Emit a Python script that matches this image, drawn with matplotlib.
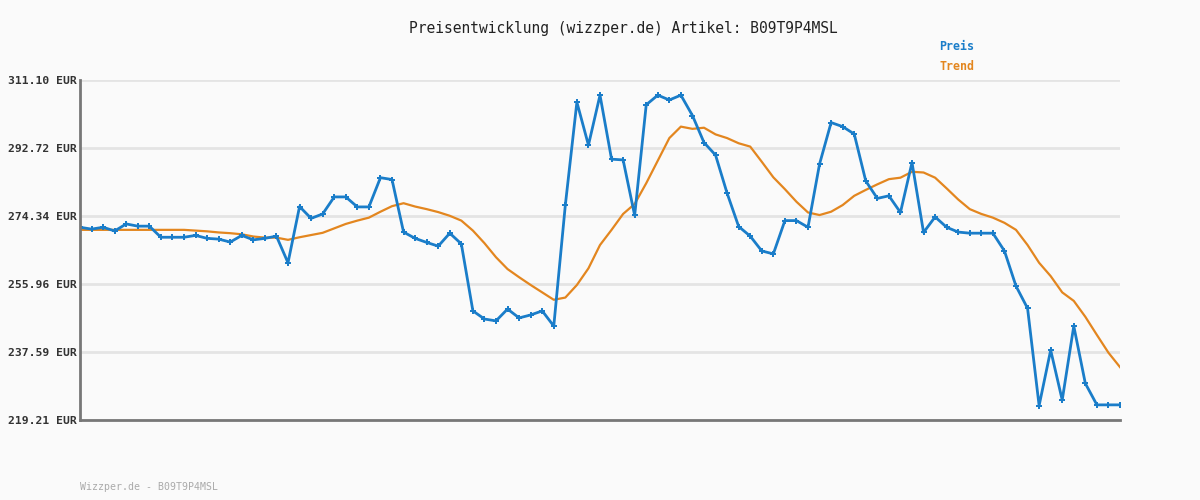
import matplotlib
matplotlib.use('Agg')
from matplotlib import pyplot as plt
import numpy as np

# price history (91 samples)
preis = [271.3, 270.8, 271.3, 270.3, 272.2, 271.6, 271.6, 268.6, 268.6, 268.6,
         269.1, 268.3, 268.1, 267.3, 269.1, 267.9, 268.3, 268.9, 261.7, 276.9,
         273.7, 274.9, 279.5, 279.5, 276.8, 276.8, 284.7, 284.2, 270.0, 268.3,
         267.2, 266.2, 269.7, 266.8, 248.7, 246.5, 246.0, 249.2, 246.8, 247.6,
         248.7, 244.6, 277.3, 305.1, 293.5, 307.0, 289.7, 289.5, 274.5, 304.4,
         307.0, 305.7, 307.0, 301.5, 294.2, 290.8, 280.5, 271.5, 268.9, 264.9,
         264.1, 273.1, 273.1, 271.3, 288.4, 299.6, 298.5, 296.5, 283.8, 279.1,
         279.8, 275.3, 288.8, 269.9, 274.1, 271.3, 270.0, 269.7, 269.7, 269.7,
         264.9, 255.4, 249.4, 223.1, 238.1, 224.6, 244.6, 229.1, 223.3, 223.3,
         223.3]

trend = [270.6, 270.6, 270.6, 270.6, 270.6, 270.6, 270.6, 270.6, 270.6, 270.6,
         270.4, 270.2, 269.9, 269.7, 269.4, 268.8, 268.5, 268.5, 267.9, 268.6,
         269.2, 269.8, 271.0, 272.2, 273.1, 273.9, 275.5, 277.0, 277.8, 276.9,
         276.2, 275.4, 274.4, 273.1, 270.4, 267.0, 263.2, 260.0, 257.8, 255.7,
         253.7, 251.7, 252.3, 255.7, 260.2, 266.5, 270.6, 274.9, 277.6, 283.2,
         289.3, 295.4, 298.5, 297.9, 298.2, 296.4, 295.4, 294.0, 293.1, 289.0,
         284.8, 281.6, 278.2, 275.3, 274.6, 275.5, 277.3, 279.8, 281.4, 282.9,
         284.3, 284.7, 286.3, 286.1, 284.7, 281.8, 278.8, 276.2, 274.9, 273.9,
         272.5, 270.6, 266.5, 261.7, 258.1, 253.7, 251.4, 247.1, 242.2, 237.4,
         233.5]

yticks = [219.21, 237.59, 255.96, 274.34, 292.72, 311.10]
ytick_labels = ['%.2f EUR' % v for v in yticks]

title = 'Preisentwicklung (wizzper.de) Artikel: B09T9P4MSL'
footer = 'Wizzper.de - B09T9P4MSL'

c_preis = '#1a7dc9'
c_trend = '#e3861f'
bg = '#fafafa'
mono = 'DejaVu Sans Mono'

fig = plt.figure(figsize=(12, 5), dpi=100, facecolor=bg)
ax = fig.add_axes([80/1200, 80/500, 1040/1200, 340/500], facecolor=bg)

x = np.arange(len(preis))
ax.plot(x, trend, color=c_trend, lw=1.6, zorder=3)
ax.plot(x, preis, color=c_preis, lw=2.0, marker='P', ms=4.5, mew=0, zorder=4)

ax.set_xlim(0, len(preis) - 1)
ax.set_ylim(yticks[0], yticks[-1])
ax.set_yticks(yticks)
ax.set_yticklabels(ytick_labels, family=mono, fontweight='bold', fontsize=8.2, color='#333333')
ax.set_xticks([])
ax.tick_params(axis='y', length=0, pad=2)
ax.grid(axis='y', color='#e4e4e4', lw=2, zorder=0)

for s in ['top', 'right']:
    ax.spines[s].set_visible(False)
for s in ['left', 'bottom']:
    ax.spines[s].set_color('#777777')
    ax.spines[s].set_linewidth(2)
    ax.spines[s].set_zorder(5)

fig.text(623/1200, 1 - 28/500, title, family=mono, fontsize=10.5, color='#222222',
         ha='center', va='center')
fig.text(939/1200, 1 - 47/500, 'Preis', family=mono, fontsize=8.4, fontweight='bold',
         color=c_preis, ha='left', va='center')
fig.text(939/1200, 1 - 67/500, 'Trend', family=mono, fontsize=8.4, fontweight='bold',
         color=c_trend, ha='left', va='center')
fig.text(80/1200, 1 - 487/500, footer, family=mono, fontsize=7.1, color='#aaaaaa',
         ha='left', va='center')

plt.savefig('out.png', dpi=100, facecolor=bg)
